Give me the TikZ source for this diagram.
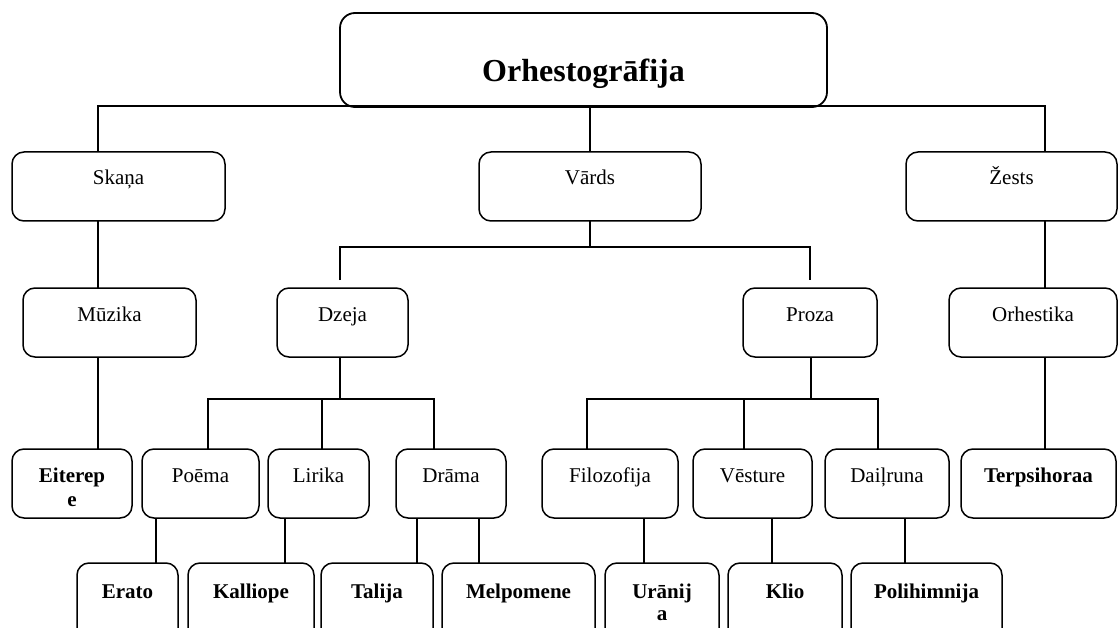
\documentclass[tikz,border=0pt]{standalone}
\usepackage{fontspec}
\setmainfont{Liberation Serif}
\begin{document}
\begin{tikzpicture}[x=1pt,y=-1pt,
  box/.style={draw, line width=1.5pt, rounded corners=12pt, minimum height=69pt, inner sep=0pt, outer sep=0pt},
  lowbox/.style={box, minimum height=80pt},
  lbl/.style={anchor=base, yshift=-33pt, inner sep=0pt, font=\fontsize{21}{24}\selectfont, align=center},
  blbl/.style={lbl, font=\fontsize{21}{24}\selectfont\bfseries},
  conn/.style={line width=1.3pt}]
\useasboundingbox (0,0) rectangle (1118,628);
\clip (0,0) rectangle (1118,628);
% title
\node[box, line width=1.8pt, rounded corners=15pt, minimum width=487pt, minimum height=94pt,
  label={[anchor=base, yshift=-69pt, inner sep=0pt, font=\fontsize{32}{36}\selectfont\bfseries]north:Orhestogrāfija}] (title) at (583.5,60) {};
% level 1
\node[box, minimum width=213pt, label={[lbl]north:Skaņa}] (skana) at (118.5,186.5) {};
\node[box, minimum width=222pt, label={[lbl]north:Vārds}] (vards) at (590,186.5) {};
\node[box, minimum width=211pt, label={[lbl]north:Žests}] (zests) at (1011.5,186.5) {};
% level 2
\node[box, minimum width=173pt, label={[lbl]north:Mūzika}] (muzika) at (109.5,322.5) {};
\node[box, minimum width=131pt, label={[lbl]north:Dzeja}] (dzeja) at (342.5,322.5) {};
\node[box, minimum width=134pt, label={[lbl]north:Proza}] (proza) at (810,322.5) {};
\node[box, minimum width=168pt, label={[lbl]north:Orhestika}] (orhestika) at (1033,322.5) {};
% level 3
\node[box, minimum width=120pt, label={[blbl, yshift=-24pt]north:{Eiterep\\e}}] (eiterepe) at (72,483.5) {};
\node[box, minimum width=117pt, label={[lbl]north:Poēma}] (poema) at (200.5,483.5) {};
\node[box, minimum width=101pt, label={[lbl]north:Lirika}] (lirika) at (318.5,483.5) {};
\node[box, minimum width=110pt, label={[lbl]north:Drāma}] (drama) at (451,483.5) {};
\node[box, minimum width=136pt, label={[lbl]north:Filozofija}] (filozofija) at (610,483.5) {};
\node[box, minimum width=119pt, label={[lbl]north:Vēsture}] (vesture) at (752.5,483.5) {};
\node[box, minimum width=124pt, label={[lbl]north:Daiļruna}] (dailruna) at (887,483.5) {};
\node[box, minimum width=155pt, label={[blbl]north:Terpsihoraa}] (terpsihoraa) at (1038.5,483.5) {};
% level 4
\node[lowbox, minimum width=101pt, label={[blbl, yshift=-2pt]north:Erato}] (erato) at (127.5,603) {};
\node[lowbox, minimum width=126pt, label={[blbl, yshift=-2pt]north:Kalliope}] (kalliope) at (251,603) {};
\node[lowbox, minimum width=112pt, label={[blbl, yshift=-2pt]north:Talija}] (talija) at (377,603) {};
\node[lowbox, minimum width=153pt, label={[blbl, yshift=-2pt]north:Melpomene}] (melpomene) at (518.5,603) {};
\node[lowbox, minimum width=114pt, label={[blbl, yshift=-24pt]north:{Urānij\\[-2pt]a}}] (uranija) at (662,603) {};
\node[lowbox, minimum width=114pt, label={[blbl, yshift=-2pt]north:Klio}] (klio) at (785,603) {};
\node[lowbox, minimum width=151pt, label={[blbl, yshift=-2pt]north:Polihimnija}] (polihimnija) at (926.5,603) {};
% connectors
\draw[conn] ([xshift=-20.5]skana.north) |- ([yshift=1pt]title.south) -| ([xshift=33.5]zests.north);
\draw[conn] (vards.north |- title.south) -- (vards.north);
\draw[conn] ([xshift=-20.5]skana.south) -- ([xshift=-20.5]skana.south |- muzika.north);
\draw[conn] ([xshift=26]eiterepe.north |- muzika.south) -- ([xshift=26]eiterepe.north);
\draw[conn] (vards.south) -- ++(0,26) coordinate (vb);
\draw[conn] ([xshift=-2.5,yshift=8pt]dzeja.north) |- (vb) -| ([yshift=8pt]proza.north);
\draw[conn] ([xshift=33.5]zests.south) -- ([xshift=33.5]zests.south |- orhestika.north);
\draw[conn] ([xshift=6.5]terpsihoraa.north |- orhestika.south) -- ([xshift=6.5]terpsihoraa.north);
% Dzeja children
\draw[conn] ([xshift=-2.5]dzeja.south) -- ++(0,42) coordinate (db);
\draw[conn] ([xshift=7.5]poema.north) |- (db) -| ([xshift=-17]drama.north);
\draw[conn] ([xshift=3.5]lirika.north) -- ([xshift=3.5]lirika.north |- db);
% Proza children
\draw[conn] ([xshift=1]proza.south) -- ++(0,42) coordinate (pb);
\draw[conn] ([xshift=-23]filozofija.north) |- (pb) -| ([xshift=-9]dailruna.north);
\draw[conn] ([xshift=-8.5]vesture.north) -- ([xshift=-8.5]vesture.north |- pb);
% level 4 links
\draw[conn] ([xshift=28.5]erato.north |- poema.south) -- ([xshift=28.5]erato.north);
\draw[conn] ([xshift=34]kalliope.north |- lirika.south) -- ([xshift=34]kalliope.north);
\draw[conn] ([xshift=40]talija.north |- drama.south) -- ([xshift=40]talija.north);
\draw[conn] ([xshift=-39.5]melpomene.north |- drama.south) -- ([xshift=-39.5]melpomene.north);
\draw[conn] ([xshift=-18]uranija.north |- filozofija.south) -- ([xshift=-18]uranija.north);
\draw[conn] ([xshift=-13]klio.north |- vesture.south) -- ([xshift=-13]klio.north);
\draw[conn] ([xshift=-21.5]polihimnija.north |- dailruna.south) -- ([xshift=-21.5]polihimnija.north);
\end{tikzpicture}
\end{document}
